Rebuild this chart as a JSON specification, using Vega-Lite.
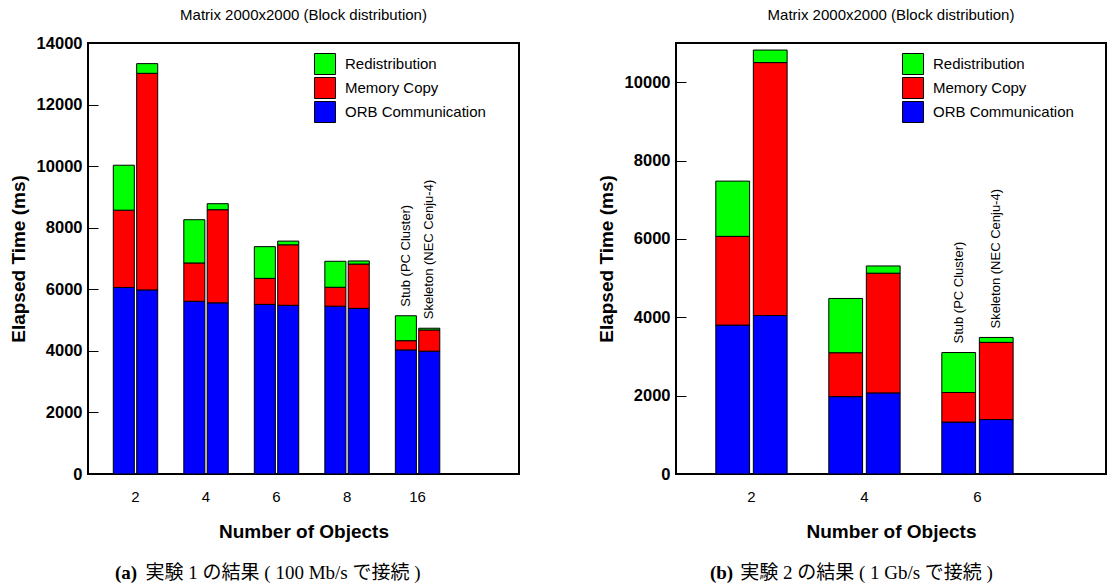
{
  "$schema": "https://vega.github.io/schema/vega-lite/v6.json",
  "background": "white",
  "padding": {"left": 8, "top": 7, "right": 2, "bottom": 2},
  "config": {
    "font": "Liberation Sans",
    "view": {"stroke": "black", "strokeWidth": 2},
    "axisY": {"domain": false, "grid": false, "tickSize": -10, "tickColor": "black", "tickWidth": 1, "labelPadding": 16, "format": "d", "labelFont": "Liberation Sans", "labelFontWeight": "bold", "labelFontSize": 16.5, "labelColor": "black", "titleFont": "Liberation Sans", "titleFontWeight": "bold", "titleFontSize": 19, "titleColor": "black", "titlePadding": 8},
    "axisX": {"domain": false, "grid": false, "ticks": false, "labelPadding": 15, "labelAngle": 0, "labelFont": "Liberation Sans", "labelFontWeight": "normal", "labelFontSize": 15, "labelColor": "black", "titleFont": "Liberation Sans", "titleFontWeight": "bold", "titleFontSize": 19, "titleColor": "black", "titlePadding": 18},
    "legend": {"orient": "none", "legendX": 226, "legendY": 10, "title": null, "symbolType": "square", "symbolSize": 441, "symbolStrokeColor": "black", "symbolStrokeWidth": 1, "symbolOpacity": 1, "labelFontSize": 15, "labelFont": "Liberation Sans", "labelColor": "black", "labelOffset": 9, "rowPadding": -12, "padding": 0}
  },
  "datasets": {
    "a": [
      {"objects": "2", "system": "Stub (PC Cluster)", "component": "ORB Communication", "s": 1, "ms": 6060},
      {"objects": "2", "system": "Stub (PC Cluster)", "component": "Memory Copy", "s": 2, "ms": 2510},
      {"objects": "2", "system": "Stub (PC Cluster)", "component": "Redistribution", "s": 3, "ms": 1460},
      {"objects": "2", "system": "Skeleton (NEC Cenju-4)", "component": "ORB Communication", "s": 1, "ms": 5980},
      {"objects": "2", "system": "Skeleton (NEC Cenju-4)", "component": "Memory Copy", "s": 2, "ms": 7035},
      {"objects": "2", "system": "Skeleton (NEC Cenju-4)", "component": "Redistribution", "s": 3, "ms": 315},
      {"objects": "4", "system": "Stub (PC Cluster)", "component": "ORB Communication", "s": 1, "ms": 5610},
      {"objects": "4", "system": "Stub (PC Cluster)", "component": "Memory Copy", "s": 2, "ms": 1245},
      {"objects": "4", "system": "Stub (PC Cluster)", "component": "Redistribution", "s": 3, "ms": 1405},
      {"objects": "4", "system": "Skeleton (NEC Cenju-4)", "component": "ORB Communication", "s": 1, "ms": 5560},
      {"objects": "4", "system": "Skeleton (NEC Cenju-4)", "component": "Memory Copy", "s": 2, "ms": 3025},
      {"objects": "4", "system": "Skeleton (NEC Cenju-4)", "component": "Redistribution", "s": 3, "ms": 195},
      {"objects": "6", "system": "Stub (PC Cluster)", "component": "ORB Communication", "s": 1, "ms": 5510},
      {"objects": "6", "system": "Stub (PC Cluster)", "component": "Memory Copy", "s": 2, "ms": 845},
      {"objects": "6", "system": "Stub (PC Cluster)", "component": "Redistribution", "s": 3, "ms": 1030},
      {"objects": "6", "system": "Skeleton (NEC Cenju-4)", "component": "ORB Communication", "s": 1, "ms": 5480},
      {"objects": "6", "system": "Skeleton (NEC Cenju-4)", "component": "Memory Copy", "s": 2, "ms": 1965},
      {"objects": "6", "system": "Skeleton (NEC Cenju-4)", "component": "Redistribution", "s": 3, "ms": 120},
      {"objects": "8", "system": "Stub (PC Cluster)", "component": "ORB Communication", "s": 1, "ms": 5450},
      {"objects": "8", "system": "Stub (PC Cluster)", "component": "Memory Copy", "s": 2, "ms": 615},
      {"objects": "8", "system": "Stub (PC Cluster)", "component": "Redistribution", "s": 3, "ms": 845},
      {"objects": "8", "system": "Skeleton (NEC Cenju-4)", "component": "ORB Communication", "s": 1, "ms": 5380},
      {"objects": "8", "system": "Skeleton (NEC Cenju-4)", "component": "Memory Copy", "s": 2, "ms": 1440},
      {"objects": "8", "system": "Skeleton (NEC Cenju-4)", "component": "Redistribution", "s": 3, "ms": 100},
      {"objects": "16", "system": "Stub (PC Cluster)", "component": "ORB Communication", "s": 1, "ms": 4030},
      {"objects": "16", "system": "Stub (PC Cluster)", "component": "Memory Copy", "s": 2, "ms": 300},
      {"objects": "16", "system": "Stub (PC Cluster)", "component": "Redistribution", "s": 3, "ms": 810},
      {"objects": "16", "system": "Skeleton (NEC Cenju-4)", "component": "ORB Communication", "s": 1, "ms": 3990},
      {"objects": "16", "system": "Skeleton (NEC Cenju-4)", "component": "Memory Copy", "s": 2, "ms": 690},
      {"objects": "16", "system": "Skeleton (NEC Cenju-4)", "component": "Redistribution", "s": 3, "ms": 55}
    ],
    "b": [
      {"objects": "2", "system": "Stub (PC Cluster)", "component": "ORB Communication", "s": 1, "ms": 3800},
      {"objects": "2", "system": "Stub (PC Cluster)", "component": "Memory Copy", "s": 2, "ms": 2265},
      {"objects": "2", "system": "Stub (PC Cluster)", "component": "Redistribution", "s": 3, "ms": 1410},
      {"objects": "2", "system": "Skeleton (NEC Cenju-4)", "component": "ORB Communication", "s": 1, "ms": 4045},
      {"objects": "2", "system": "Skeleton (NEC Cenju-4)", "component": "Memory Copy", "s": 2, "ms": 6455},
      {"objects": "2", "system": "Skeleton (NEC Cenju-4)", "component": "Redistribution", "s": 3, "ms": 320},
      {"objects": "4", "system": "Stub (PC Cluster)", "component": "ORB Communication", "s": 1, "ms": 1975},
      {"objects": "4", "system": "Stub (PC Cluster)", "component": "Memory Copy", "s": 2, "ms": 1120},
      {"objects": "4", "system": "Stub (PC Cluster)", "component": "Redistribution", "s": 3, "ms": 1385},
      {"objects": "4", "system": "Skeleton (NEC Cenju-4)", "component": "ORB Communication", "s": 1, "ms": 2070},
      {"objects": "4", "system": "Skeleton (NEC Cenju-4)", "component": "Memory Copy", "s": 2, "ms": 3055},
      {"objects": "4", "system": "Skeleton (NEC Cenju-4)", "component": "Redistribution", "s": 3, "ms": 185},
      {"objects": "6", "system": "Stub (PC Cluster)", "component": "ORB Communication", "s": 1, "ms": 1325},
      {"objects": "6", "system": "Stub (PC Cluster)", "component": "Memory Copy", "s": 2, "ms": 755},
      {"objects": "6", "system": "Stub (PC Cluster)", "component": "Redistribution", "s": 3, "ms": 1020},
      {"objects": "6", "system": "Skeleton (NEC Cenju-4)", "component": "ORB Communication", "s": 1, "ms": 1390},
      {"objects": "6", "system": "Skeleton (NEC Cenju-4)", "component": "Memory Copy", "s": 2, "ms": 1970},
      {"objects": "6", "system": "Skeleton (NEC Cenju-4)", "component": "Redistribution", "s": 3, "ms": 125}
    ]
  },
  "spacing": 76,
  "resolve": {"scale": {"color": "independent", "y": "independent", "x": "independent", "xOffset": "independent"}, "legend": {"color": "independent"}},
  "hconcat": [
    {
      "title": {"text": "(a)", "orient": "bottom", "anchor": "middle", "frame": "bounds", "font": "Liberation Serif", "fontSize": 19, "fontWeight": "bold", "color": "black", "offset": 0, "dy": -19, "dx": -138},
      "resolve": {"scale": {"color": "independent"}, "legend": {"color": "independent"}},
      "vconcat": [
        {
          "title": {"text": "実験 1 の結果 ( 100 Mb/s で接続 )", "orient": "bottom", "anchor": "middle", "frame": "bounds", "font": "Liberation Serif, Noto Sans CJK JP", "fontSize": 19, "fontWeight": "normal", "color": "black", "offset": 22, "dx": 19},
          "resolve": {"scale": {"color": "independent"}, "legend": {"color": "independent"}},
          "vconcat": [
            {
              "width": 431,
              "height": 431,
              "title": {"text": "Matrix 2000x2000 (Block distribution)", "font": "Liberation Sans", "fontSize": 15, "fontWeight": "normal", "color": "black", "anchor": "middle", "frame": "group", "offset": 12},
              "data": {"name": "a"},
              "encoding": {
                "x": {"field": "objects", "type": "ordinal", "sort": ["2", "4", "6", "8", "16"], "title": "Number of Objects", "scale": {"paddingInner": 0.37, "paddingOuter": 0.741, "align": 0.242}},
                "xOffset": {"field": "system", "type": "nominal", "sort": ["Stub (PC Cluster)", "Skeleton (NEC Cenju-4)"], "scale": {"paddingInner": 0.1, "paddingOuter": 0}}
              },
              "layer": [
                {
                  "mark": {"type": "bar", "stroke": "black", "strokeWidth": 1},
                  "encoding": {
                    "y": {"field": "ms", "type": "quantitative", "stack": "zero", "title": "Elapsed Time (ms)", "scale": {"domain": [0, 14000], "nice": false}, "axis": {"values": [0, 2000, 4000, 6000, 8000, 10000, 12000, 14000]}},
                    "color": {"field": "component", "type": "nominal", "scale": {"domain": ["Redistribution", "Memory Copy", "ORB Communication"], "range": ["#00ff00", "#ff0000", "#0000ff"]}},
                    "order": {"field": "s", "type": "quantitative"}
                  }
                },
                {
                  "transform": [{"filter": "datum.objects == '16'"}],
                  "mark": {"type": "text", "angle": 270, "align": "left", "baseline": "middle", "dx": 9, "fontSize": 13, "font": "Liberation Sans", "color": "black"},
                  "encoding": {
                    "y": {"aggregate": "sum", "field": "ms", "type": "quantitative"},
                    "text": {"field": "system", "type": "nominal"}
                  }
                }
              ]
            }
          ]
        }
      ]
    },
    {
      "title": {"text": "(b)", "orient": "bottom", "anchor": "middle", "frame": "bounds", "font": "Liberation Serif", "fontSize": 19, "fontWeight": "bold", "color": "black", "offset": 0, "dy": -19, "dx": -130},
      "resolve": {"scale": {"color": "independent"}, "legend": {"color": "independent"}},
      "vconcat": [
        {
          "title": {"text": "実験 2 の結果 ( 1 Gb/s で接続 )", "orient": "bottom", "anchor": "middle", "frame": "bounds", "font": "Liberation Serif, Noto Sans CJK JP", "fontSize": 19, "fontWeight": "normal", "color": "black", "offset": 22, "dx": 15},
          "resolve": {"scale": {"color": "independent"}, "legend": {"color": "independent"}},
          "vconcat": [
            {
              "width": 430,
              "height": 431,
              "title": {"text": "Matrix 2000x2000 (Block distribution)", "font": "Liberation Sans", "fontSize": 15, "fontWeight": "normal", "color": "black", "anchor": "middle", "frame": "group", "offset": 20},
              "data": {"name": "b"},
              "encoding": {
                "x": {"field": "objects", "type": "ordinal", "sort": ["2", "4", "6"], "title": "Number of Objects", "scale": {"paddingInner": 0.369, "paddingOuter": 0.587, "align": 0.3}},
                "xOffset": {"field": "system", "type": "nominal", "sort": ["Stub (PC Cluster)", "Skeleton (NEC Cenju-4)"], "scale": {"paddingInner": 0.1, "paddingOuter": 0}}
              },
              "layer": [
                {
                  "mark": {"type": "bar", "stroke": "black", "strokeWidth": 1},
                  "encoding": {
                    "y": {"field": "ms", "type": "quantitative", "stack": "zero", "title": "Elapsed Time (ms)", "scale": {"domain": [0, 11000], "nice": false}, "axis": {"values": [0, 2000, 4000, 6000, 8000, 10000]}},
                    "color": {"field": "component", "type": "nominal", "scale": {"domain": ["Redistribution", "Memory Copy", "ORB Communication"], "range": ["#00ff00", "#ff0000", "#0000ff"]}},
                    "order": {"field": "s", "type": "quantitative"}
                  }
                },
                {
                  "transform": [{"filter": "datum.objects == '6'"}],
                  "mark": {"type": "text", "angle": 270, "align": "left", "baseline": "middle", "dx": 9, "fontSize": 13, "font": "Liberation Sans", "color": "black"},
                  "encoding": {
                    "y": {"aggregate": "sum", "field": "ms", "type": "quantitative"},
                    "text": {"field": "system", "type": "nominal"}
                  }
                }
              ]
            }
          ]
        }
      ]
    }
  ]
}
